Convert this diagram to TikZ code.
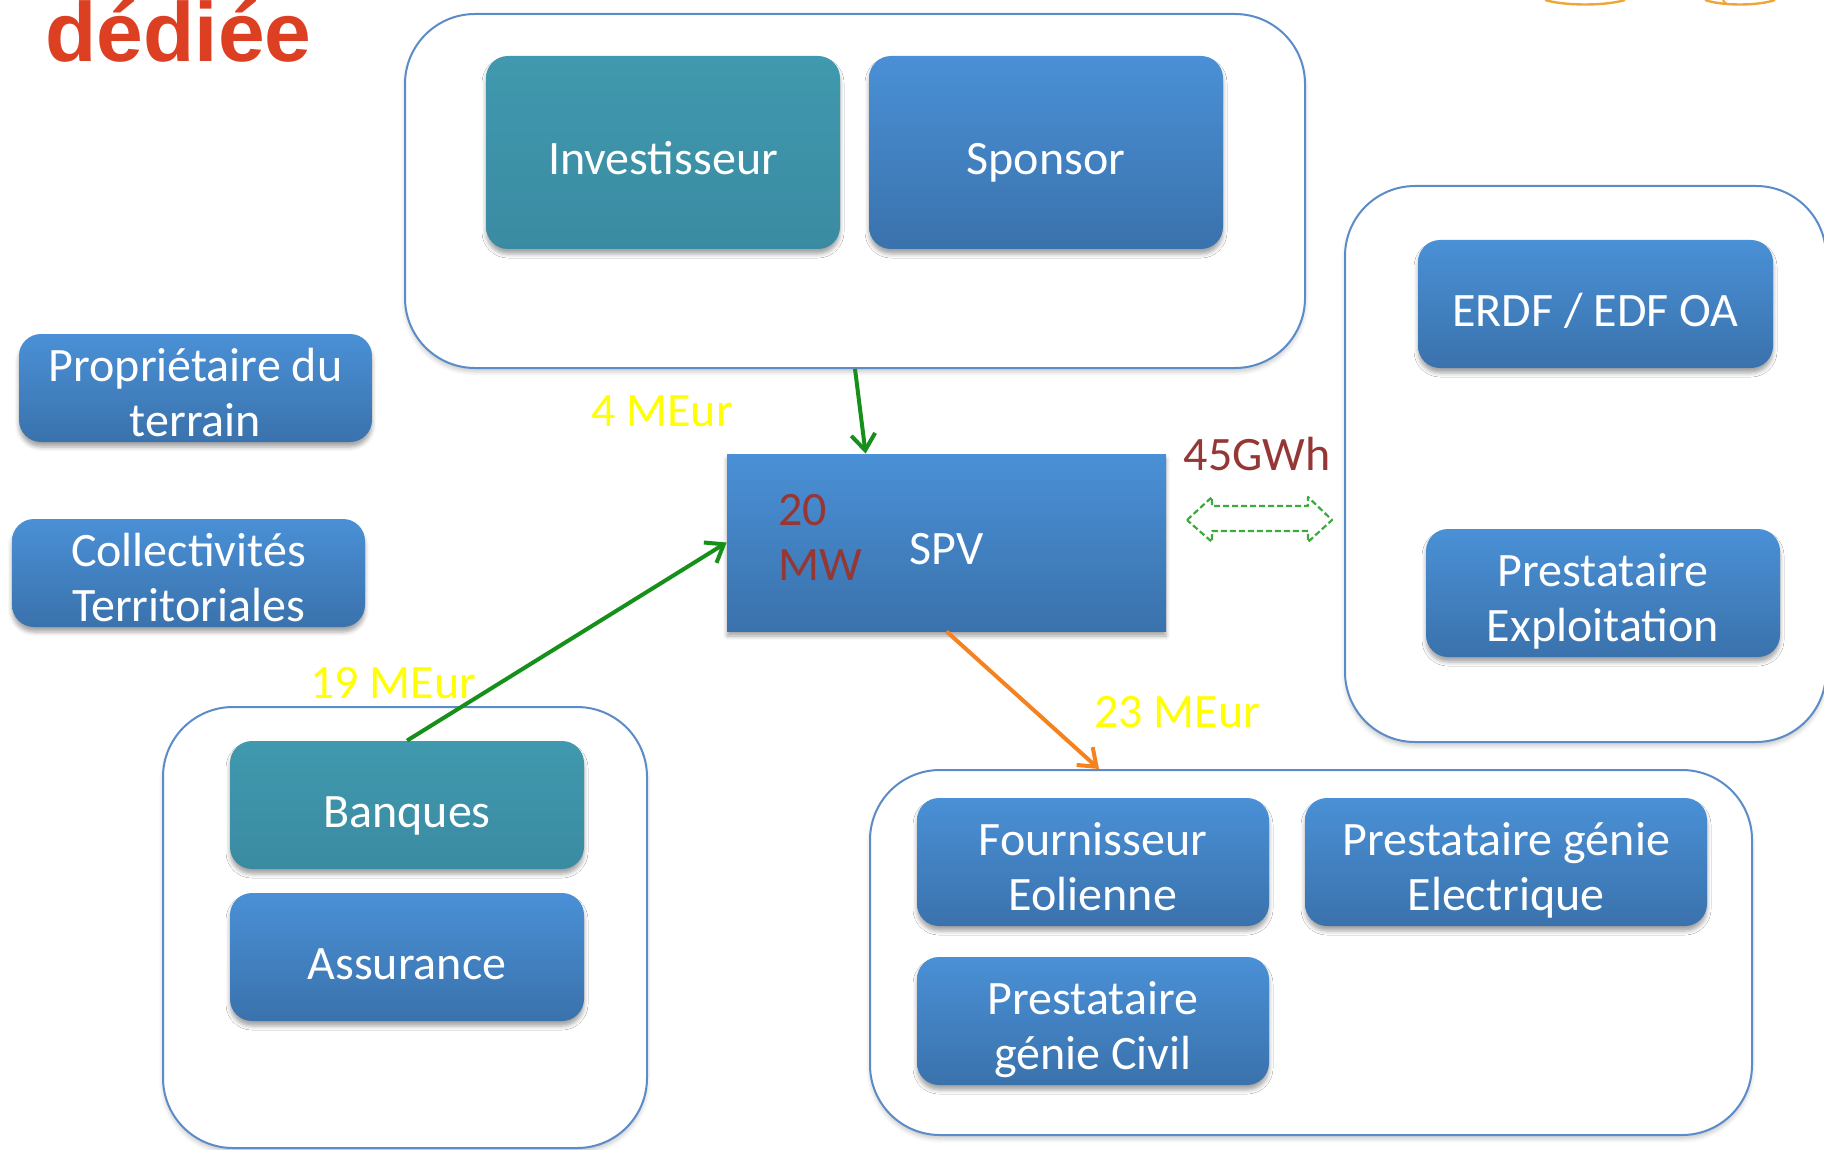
\documentclass[tikz,border=0pt]{standalone}
\usepackage{fontspec}
\setmainfont{Carlito}
\newfontfamily\titlefont{Liberation Sans}
\usetikzlibrary{arrows.meta,calc,shadows.blur}

\definecolor{boxtop}{HTML}{4A90D6}
\definecolor{boxbot}{HTML}{3A72AC}
\definecolor{tealtop}{HTML}{4099AE}
\definecolor{tealbot}{HTML}{3A8BA2}
\definecolor{frame}{HTML}{5B8CC8}
\definecolor{titlered}{HTML}{DC3F22}
\definecolor{wine}{HTML}{953735}
\definecolor{flowgreen}{HTML}{16901B}
\definecolor{floworange}{HTML}{F5821F}
\definecolor{dashgreen}{HTML}{3DAA3D}
\definecolor{money}{HTML}{FFFF00}
\definecolor{logo}{HTML}{EDA63A}

\tikzset{
  actor/.style={rectangle, rounded corners=11pt, inner sep=0pt, align=center,
    text=white, font=\fontsize{24}{27.5}\selectfont,
    top color=boxtop, bottom color=boxbot,
    text height=22pt, text depth=0pt,
    blur shadow={shadow xshift=0pt, shadow yshift=-2.5pt,
      shadow blur radius=2pt, shadow opacity=35}},
  twolines/.style={text height=48.5pt, text depth=0pt},
  investor/.style={actor, top color=tealtop, bottom color=tealbot},
  group/.style={rectangle, rounded corners=35pt, draw=frame, line width=1pt,
    fill=white, inner sep=0pt,
    blur shadow={shadow xshift=0pt, shadow yshift=-2pt,
      shadow blur radius=2pt, shadow opacity=20}},
  amount/.style={text=money, font=\fontsize{24}{27.5}\selectfont, inner sep=0pt},
  energy/.style={text=wine, font=\fontsize{24}{27.5}\selectfont, inner sep=0pt},
  flow/.style={line width=2pt, -{Straight Barb[length=8pt,width=12pt,line width=2pt]}},
}

\begin{document}
\begin{tikzpicture}[x=0.5pt, y=-0.5pt]
\useasboundingbox (0,0) rectangle (1824,1150);
\clip (0,0) rectangle (1824,1150);

% title fragment
\node[anchor=base west, inner sep=0pt, text=titlered,
  font=\titlefont\bfseries\fontsize{42}{42}\selectfont] (title) at (45,62) {dédiée};

% logo fragment at the top edge
\draw[logo, line width=1.2pt] (1545,0) .. controls (1565,6) and (1605,6) .. (1625,0);
\draw[logo, line width=1.2pt] (1705,0) .. controls (1722,6) and (1758,6) .. (1775,0);
\draw[logo, line width=1pt] (1727,4) .. controls (1724,2) .. (1723,0);

% grouping frames
\node[group, minimum width=450pt, minimum height=177pt] (owners) at (855,191) {};
\node[group, minimum width=240.5pt, minimum height=278pt] (grid) at (1585.5,464) {};
\node[group, minimum width=242pt, minimum height=220.5pt] (finance) at (405,927.5) {};
\node[group, minimum width=441pt, minimum height=182.5pt] (build) at (1311,952.5) {};

% owners
\node[investor, minimum width=177pt, minimum height=96.5pt] (inv) at (663,152.5) {Investisseur};
\node[actor, minimum width=177pt, minimum height=96.5pt] (sponsor) at (1046,152.5) {Sponsor};

% stakeholders on the left
\node[actor, twolines, minimum width=176.5pt, minimum height=54pt] (land) at (195.5,388) {Propriétaire du\\terrain};
\node[actor, twolines, minimum width=176.5pt, minimum height=54pt] (local) at (188.5,573) {Collectivités\\Territoriales};

% project company
\node[actor, rounded corners=0pt, minimum width=219.5pt, minimum height=88.5pt] (spv) at (946.5,542.5) {SPV};
\node[energy, anchor=west, align=left] (power) at (778,537.5) {20\\MW};

% grid side
\node[actor, minimum width=177.5pt, minimum height=64pt] (erdf) at (1595.5,304) {ERDF / EDF OA};
\node[actor, twolines, minimum width=177pt, minimum height=64pt] (ops) at (1603,593) {Prestataire\\Exploitation};

% financing
\node[investor, minimum width=177pt, minimum height=64pt] (banks) at (407,805) {Banques};
\node[actor, minimum width=177pt, minimum height=64pt] (insur) at (407,957) {Assurance};

% construction
\node[actor, twolines, minimum width=176pt, minimum height=64pt] (turbine) at (1093,862) {Fournisseur\\Eolienne};
\node[actor, twolines, minimum width=201pt, minimum height=64pt] (elec) at (1506,862) {Prestataire génie\\Electrique};
\node[actor, twolines, minimum width=176pt, minimum height=64pt] (civil) at (1093,1021) {Prestataire\\génie Civil};

% amounts
\node[amount] (eq) at (662,411) {4 MEur};
\node[amount] (debt) at (393,683) {19 MEur};
\node[amount] (capex) at (1177,712) {23 MEur};
\node[energy] (gwh) at (1257,454) {45GWh};

% energy exchange
\draw[dashgreen, line width=1.1pt, dash pattern=on 3pt off 1.5pt, line join=round]
  (1187,520) -- (1212,497) -- (1212,506) -- (1308,506) -- (1308,497) -- (1332,520)
  -- (1308,542) -- (1308,531) -- (1212,531) -- (1212,542) -- cycle;

% money flows
\draw[flow, flowgreen] (owners.south) -- ($(spv.north west)+(139,0)$);
\draw[flow, flowgreen] (banks.north) -- (spv.west);
\draw[flow, floworange] (spv.south) -- ($(build.north west)+(230,0)$);
\end{tikzpicture}
\end{document}
